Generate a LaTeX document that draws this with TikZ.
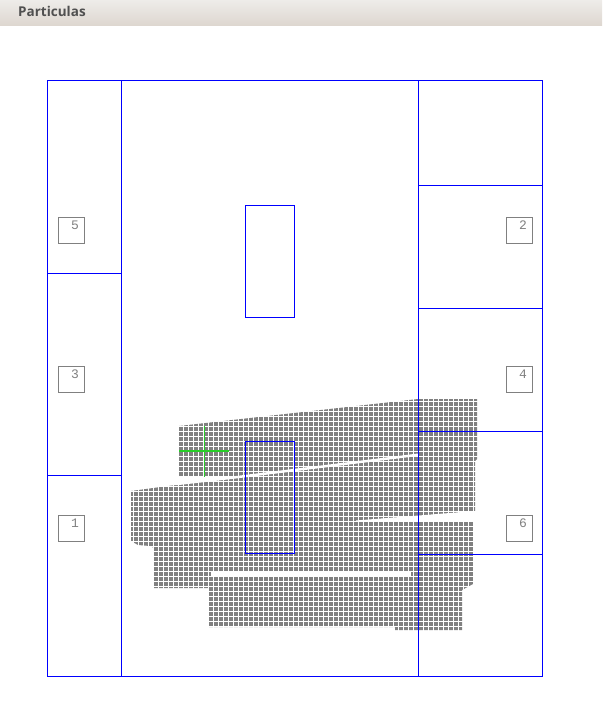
\documentclass[tikz,border=0pt]{standalone}
\usepackage{fontspec}
\newfontfamily\headfont{Open Sans}
\newfontfamily\tagfont{Liberation Mono}
\usetikzlibrary{positioning}

\definecolor{headTop}{RGB}{238,236,233}
\definecolor{headBot}{RGB}{221,214,207}
\definecolor{headText}{RGB}{80,80,80}
\definecolor{cellGray}{RGB}{128,128,128}
\definecolor{tagGray}{RGB}{128,128,128}
\definecolor{markGreen}{RGB}{40,205,40}

\begin{document}
\begin{tikzpicture}[
    x=1pt, y=-1pt,
    zone/.style={draw=blue, line width=1pt},
    tag/.style={
        rectangle,
        draw=tagGray, line width=1pt,
        minimum width=26pt, minimum height=26pt,
        inner sep=0pt
    },
    tagnum/.style={font=\tagfont\fontsize{13}{13}\selectfont, text=tagGray, inner sep=0pt},
    gap/.style={white, line width=1pt}
]
\useasboundingbox (0,0) rectangle (602,722);

% Title bar
\shade[top color=headTop, bottom color=headBot] (0,0) rectangle (602,26);
\node[anchor=base west, inner sep=0pt, text=headText,
      font=\headfont\bfseries\fontsize{13.5}{14}\selectfont] (title) at (18,17) {Particulas};

% Particles
\fill[cellGray] (179,426) -- (418,399) -- (477,399) -- (477,459) -- (475,461)
    -- (475,512) -- (473,522) -- (473,584) -- (462,590) -- (462,630)
    -- (395,630) -- (395,627) -- (208,627) -- (208,588) -- (154,588)
    -- (154,548) -- (150,546) -- (138,545) -- (131,541) -- (131,491)
    -- (179,484.5) -- cycle;
\begin{scope}
    \clip (125,395) rectangle (480,632);
    \foreach \gx in {133.5,138.5,...,478.5}
        \draw[gap] (\gx,395) -- (\gx,632);
    \foreach \gy in {396.5,401.5,...,631.5}
        \draw[gap] (125,\gy) -- (480,\gy);
\end{scope}
\fill[white] (170,477) -- (232,476.5) -- (418,453.5) -- (418,456) -- (232,479)
    -- (179,485) -- (170,485) -- cycle;
\fill[white] (356,520.5) -- (475,511) -- (479,511) -- (479,522) -- (356,521.5) -- cycle;
\fill[white] (211,571.5) rectangle (411,576);

% Zones
\draw[zone] (47,81) rectangle (542,676);
\draw[zone] (121,81) -- (121,676);
\draw[zone] (418,81) -- (418,676);
\draw[zone] (47,273) -- (121,273);
\draw[zone] (47,475) -- (121,475);
\draw[zone] (418,185) -- (542,185);
\draw[zone] (418,308) -- (542,308);
\draw[zone] (418,431) -- (542,431);
\draw[zone] (418,554) -- (542,554);
\draw[zone] (245,205) rectangle (294,317);
\draw[zone] (245,441) rectangle (294,553);

% Marker
\draw[markGreen, line width=1.3pt] (204.5,426) -- (204.5,477);
\draw[markGreen, line width=1.3pt] (179,451) -- (229,451);

% Tags
\node[tag] (box5) at (71,230) {};
\node[tagnum] at ([xshift=-9.5pt, yshift=-8.5pt]box5.north east) {5};
\node[tag] (box3) at (71,379) {};
\node[tagnum] at ([xshift=-9.5pt, yshift=-8.5pt]box3.north east) {3};
\node[tag] (box1) at (71,528) {};
\node[tagnum] at ([xshift=-9.5pt, yshift=-8.5pt]box1.north east) {1};
\node[tag] (box2) at (519,230) {};
\node[tagnum] at ([xshift=-9.5pt, yshift=-8.5pt]box2.north east) {2};
\node[tag] (box4) at (519,379) {};
\node[tagnum] at ([xshift=-9.5pt, yshift=-8.5pt]box4.north east) {4};
\node[tag] (box6) at (519,528) {};
\node[tagnum] at ([xshift=-9.5pt, yshift=-8.5pt]box6.north east) {6};

\end{tikzpicture}
\end{document}
